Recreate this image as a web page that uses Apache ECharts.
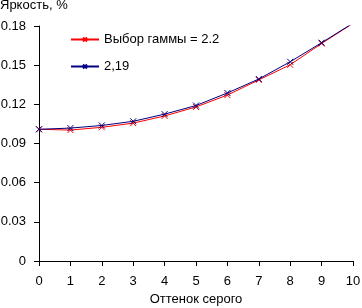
<!DOCTYPE html>
<html>
<head>
<meta charset="utf-8">
<script src="https://cdn.jsdelivr.net/npm/echarts@6/dist/echarts.min.js"></script>
<style>
html,body{margin:0;padding:0;background:#fff;}
#chart{width:362px;height:308px;}
</style>
</head>
<body>
<div id="chart"></div>
<script>
// оттенок серого 0..10
let shades = [0, 1, 2, 3, 4, 5, 6, 7, 8, 9, 10];
let gamma22 = [0.1009, 0.1003, 0.1024, 0.1056, 0.1111, 0.1180, 0.1271, 0.1387, 0.1503, 0.1666, 0.1820];
let gamma219 = [0.1009, 0.1018, 0.1038, 0.1070, 0.1125, 0.1191, 0.1287, 0.1394, 0.1526, 0.1672, 0.1822];
let seriesNames = ['Выбор гаммы = 2.2', '2,19'];

let font = 'Liberation Sans, Arial, sans-serif';
let cross = 'path://M0,0L10,10M10,0L0,10';

function pairs(vals) {
  return shades.map(function (s, i) { return [s, vals[i]]; });
}

let chart = echarts.init(document.getElementById('chart'));
chart.setOption({
  animation: false,
  textStyle: {fontFamily: font, color: '#000'},
  title: {
    text: 'Яркость, %',
    left: 0,
    top: -1,
    padding: 0,
    textStyle: {fontFamily: font, fontSize: 13, fontWeight: 'normal', color: '#000'}
  },
  legend: {
    orient: 'vertical',
    left: 65,
    top: 28,
    itemWidth: 28,
    itemHeight: 5,
    itemGap: 14,
    textStyle: {fontFamily: font, fontSize: 13, color: '#000'},
    data: seriesNames
  },
  grid: {left: 39, right: 9, top: 26, bottom: 47, containLabel: false, outerBoundsMode: 'none'},
  xAxis: {
    type: 'value',
    min: 0,
    max: 10,
    interval: 1,
    name: 'Оттенок серого',
    nameLocation: 'middle',
    nameGap: 31,
    nameTextStyle: {fontFamily: font, fontSize: 13, color: '#000'},
    axisLine: {lineStyle: {color: '#000', width: 1}},
    axisTick: {length: 5, lineStyle: {color: '#000'}},
    axisLabel: {margin: 14, fontSize: 13, color: '#000', fontFamily: font},
    splitLine: {show: false}
  },
  yAxis: {
    type: 'value',
    min: 0,
    max: 0.18,
    interval: 0.03,
    axisLine: {show: true, lineStyle: {color: '#000', width: 1}},
    axisTick: {show: true, length: 5, lineStyle: {color: '#000'}},
    axisLabel: {
      margin: 13, fontSize: 13, color: '#000', fontFamily: font,
      formatter: function (v) { return v === 0 ? '0' : v.toFixed(2); }
    },
    splitLine: {show: false}
  },
  series: [{
    name: seriesNames[0],
    type: 'line',
    z: 2,
    data: pairs(gamma22),
    symbol: cross,
    symbolSize: 6,
    lineStyle: {color: '#ff0000', width: 1},
    itemStyle: {color: '#ff0000', borderColor: '#ff0000', borderWidth: 1}
  }, {
    name: seriesNames[1],
    type: 'line',
    z: 3,
    data: pairs(gamma219),
    symbol: cross,
    symbolSize: 6,
    lineStyle: {color: '#000080', width: 1},
    itemStyle: {color: '#000080', borderColor: '#000080', borderWidth: 1}
  }]
});
</script>
</body>
</html>
